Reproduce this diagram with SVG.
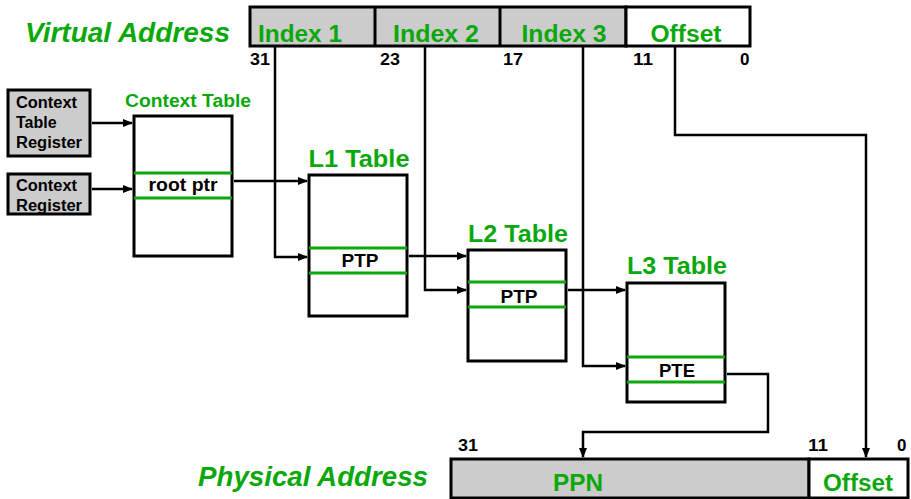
<svg xmlns="http://www.w3.org/2000/svg" width="911" height="499" viewBox="0 0 911 499">
  <style>
    text { font-family: "Liberation Sans", Arial, sans-serif; font-weight: bold; }
    .title { fill: #0aa80a; font-style: italic; font-size: 27px; }
    .field { fill: #0aa80a; font-size: 23px; text-anchor: middle; }
    .tname { fill: #0aa80a; font-size: 24px; text-anchor: middle; }
    .cname { fill: #0aa80a; font-size: 18px; text-anchor: middle; }
    .bit { fill: #000; font-size: 17px; }
    .entry { fill: #000; font-size: 18px; text-anchor: middle; }
    .reg { fill: #000; font-size: 16px; }
    .box { fill: #fff; stroke: #000; stroke-width: 3; }
    .grey { fill: #cccccc; stroke: #000; stroke-width: 3; }
    .row { stroke: #0aa80a; stroke-width: 3; }
    .wire { fill: none; stroke: #000; stroke-width: 2.5; }
  </style>
  <defs>
    <marker id="arrow" markerWidth="10" markerHeight="8" refX="9" refY="4" orient="auto" markerUnits="userSpaceOnUse">
      <path d="M0,0 L10,4 L0,8 Z" fill="#000"/>
    </marker>
  </defs>

  <!-- virtual address fields -->
  <g id="virtual-address">
    <text class="title" x="25" y="42" textLength="205" lengthAdjust="spacingAndGlyphs">Virtual Address</text>
    <rect class="grey" x="250" y="7" width="376" height="39"/>
    <rect class="box" x="626" y="7" width="124" height="39"/>
    <line x1="375" y1="7" x2="375" y2="46" stroke="#000" stroke-width="3"/>
    <line x1="500" y1="7" x2="500" y2="46" stroke="#000" stroke-width="3"/>
    <text class="field" x="300" y="42" textLength="84" lengthAdjust="spacingAndGlyphs">Index 1</text>
    <text class="field" x="436" y="42" textLength="86" lengthAdjust="spacingAndGlyphs">Index 2</text>
    <text class="field" x="564" y="42" textLength="85" lengthAdjust="spacingAndGlyphs">Index 3</text>
    <text class="field" x="686" y="42" textLength="71" lengthAdjust="spacingAndGlyphs">Offset</text>
    <text class="bit" x="250" y="65" textLength="20" lengthAdjust="spacingAndGlyphs">31</text>
    <text class="bit" x="380" y="65" textLength="20" lengthAdjust="spacingAndGlyphs">23</text>
    <text class="bit" x="503" y="65" textLength="20" lengthAdjust="spacingAndGlyphs">17</text>
    <text class="bit" x="633" y="65" textLength="20" lengthAdjust="spacingAndGlyphs">11</text>
    <text class="bit" x="740" y="65">0</text>
  </g>

  <!-- registers -->
  <g id="context-table-register">
    <rect class="grey" x="8" y="90" width="82" height="66"/>
    <text class="reg" x="16" y="108" textLength="61" lengthAdjust="spacingAndGlyphs">Context</text>
    <text class="reg" x="16" y="128">Table</text>
    <text class="reg" x="16" y="148" textLength="66" lengthAdjust="spacingAndGlyphs">Register</text>
  </g>
  <g id="context-register">
    <rect class="grey" x="8" y="174" width="82" height="40"/>
    <text class="reg" x="16" y="191" textLength="61" lengthAdjust="spacingAndGlyphs">Context</text>
    <text class="reg" x="16" y="211" textLength="66" lengthAdjust="spacingAndGlyphs">Register</text>
  </g>

  <!-- tables -->
  <g id="context-table">
    <text class="cname" x="188" y="107" textLength="126" lengthAdjust="spacingAndGlyphs">Context Table</text>
    <rect class="box" x="134" y="116" width="98" height="140"/>
    <line class="row" x1="134" y1="173" x2="232" y2="173"/>
    <line class="row" x1="134" y1="198" x2="232" y2="198"/>
    <text class="entry" x="183" y="191" textLength="69" lengthAdjust="spacingAndGlyphs">root ptr</text>
  </g>
  <g id="l1-table">
    <text class="tname" x="359" y="167" textLength="101" lengthAdjust="spacingAndGlyphs">L1 Table</text>
    <rect class="box" x="309" y="175" width="98" height="141"/>
    <line class="row" x1="309" y1="248" x2="407" y2="248"/>
    <line class="row" x1="309" y1="273" x2="407" y2="273"/>
    <text class="entry" x="360" y="267" textLength="37" lengthAdjust="spacingAndGlyphs">PTP</text>
  </g>
  <g id="l2-table">
    <text class="tname" x="518" y="242" textLength="100" lengthAdjust="spacingAndGlyphs">L2 Table</text>
    <rect class="box" x="468" y="250" width="98" height="111"/>
    <line class="row" x1="468" y1="282" x2="566" y2="282"/>
    <line class="row" x1="468" y1="307" x2="566" y2="307"/>
    <text class="entry" x="519" y="303" textLength="37" lengthAdjust="spacingAndGlyphs">PTP</text>
  </g>
  <g id="l3-table">
    <text class="tname" x="677" y="274" textLength="100" lengthAdjust="spacingAndGlyphs">L3 Table</text>
    <rect class="box" x="627" y="283" width="98" height="119"/>
    <line class="row" x1="627" y1="357" x2="725" y2="357"/>
    <line class="row" x1="627" y1="382" x2="725" y2="382"/>
    <text class="entry" x="677" y="377" textLength="36" lengthAdjust="spacingAndGlyphs">PTE</text>
  </g>

  <!-- physical address fields -->
  <g id="physical-address">
    <text class="title" x="198" y="486" textLength="230" lengthAdjust="spacingAndGlyphs">Physical Address</text>
    <rect class="grey" x="451" y="459" width="358" height="39"/>
    <rect class="box" x="809" y="459" width="99" height="39"/>
    <text class="field" x="578" y="491" textLength="50" lengthAdjust="spacingAndGlyphs">PPN</text>
    <text class="field" x="858" y="491" textLength="70" lengthAdjust="spacingAndGlyphs">Offset</text>
    <text class="bit" x="458" y="451" textLength="20" lengthAdjust="spacingAndGlyphs">31</text>
    <text class="bit" x="808" y="451" textLength="20" lengthAdjust="spacingAndGlyphs">11</text>
    <text class="bit" x="897" y="451">0</text>
  </g>

  <!-- connectors -->
  <g id="connectors">
    <line class="wire" x1="92" y1="123" x2="132" y2="123" marker-end="url(#arrow)"/>
    <line class="wire" x1="92" y1="189" x2="132" y2="189" marker-end="url(#arrow)"/>
    <line class="wire" x1="234" y1="181" x2="307" y2="181" marker-end="url(#arrow)"/>
    <polyline class="wire" points="275,46 275,257 307,257" marker-end="url(#arrow)"/>
    <line class="wire" x1="409" y1="256" x2="466" y2="256" marker-end="url(#arrow)"/>
    <polyline class="wire" points="425,46 425,290 466,290" marker-end="url(#arrow)"/>
    <line class="wire" x1="568" y1="290" x2="625" y2="290" marker-end="url(#arrow)"/>
    <polyline class="wire" points="583,46 583,366 625,366" marker-end="url(#arrow)"/>
    <polyline class="wire" points="727,374 768,374 768,432 583,432 583,457" marker-end="url(#arrow)"/>
    <polyline class="wire" points="675,46 675,135 866,135 866,457" marker-end="url(#arrow)"/>
  </g>
</svg>
